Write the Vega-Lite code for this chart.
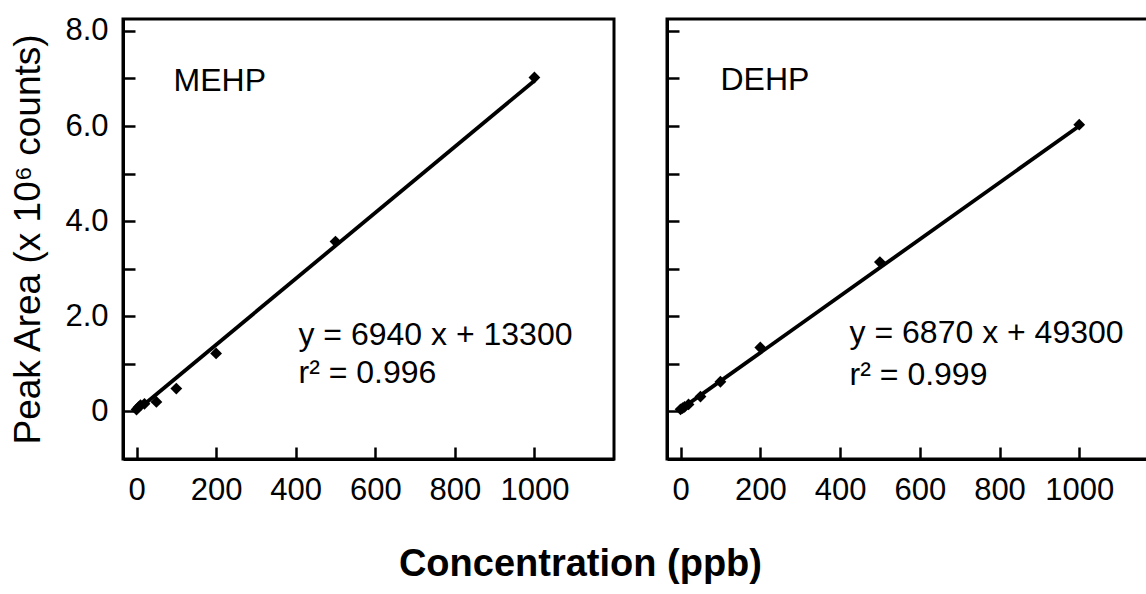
{
  "$schema": "https://vega.github.io/schema/vega-lite/v6.json",
  "background": "white",
  "autosize": {"type": "pad"},
  "padding": {"left": 8, "top": 13, "right": 0, "bottom": 0},
  "title": {
    "text": "Concentration (ppb)",
    "orient": "bottom",
    "anchor": "middle",
    "font": "Liberation Sans",
    "fontSize": 38,
    "fontWeight": "bold",
    "color": "black",
    "offset": 39
  },
  "datasets": {
    "mehp": [
      {"ppb": 0, "area": 0.04},
      {"ppb": 5, "area": 0.09},
      {"ppb": 10, "area": 0.13},
      {"ppb": 20, "area": 0.16},
      {"ppb": 50, "area": 0.2},
      {"ppb": 100, "area": 0.48},
      {"ppb": 200, "area": 1.22},
      {"ppb": 500, "area": 3.57},
      {"ppb": 1000, "area": 7.02}
    ],
    "mehp_fit": [
      {"ppb": 0, "area": 0.0133},
      {"ppb": 1000, "area": 6.9533}
    ],
    "dehp": [
      {"ppb": 0, "area": 0.05},
      {"ppb": 5, "area": 0.08},
      {"ppb": 10, "area": 0.11},
      {"ppb": 20, "area": 0.17},
      {"ppb": 50, "area": 0.36},
      {"ppb": 100, "area": 0.72},
      {"ppb": 200, "area": 1.55},
      {"ppb": 500, "area": 3.62},
      {"ppb": 1000, "area": 6.95}
    ],
    "dehp_fit": [
      {"ppb": 0, "area": 0.0493},
      {"ppb": 1000, "area": 6.9193}
    ]
  },
  "spacing": 48,
  "hconcat": [
    {
      "width": 491,
      "height": 440,
      "layer": [
        {
          "data": {"name": "mehp_fit"},
          "mark": {"type": "line", "color": "black", "strokeWidth": 3.8},
          "encoding": {
            "x": {
              "field": "ppb", "type": "quantitative",
              "scale": {"domain": [-34, 1200], "nice": false, "zero": false},
              "axis": {"title": null, "values": [0, 200, 400, 600, 800, 1000], "format": "d", "labelPadding": 28}
            },
            "y": {
              "field": "area", "type": "quantitative",
              "scale": {"domain": [-1, 8.25], "nice": false, "zero": false},
              "axis": {
                "title": "Peak Area (x 10⁶ counts)",
                "values": [0, 1, 2, 3, 4, 5, 6, 7, 8],
                "labelExpr": "datum.value == 0 ? '0' : (datum.value % 2 == 0 ? format(datum.value, '.1f') : '')",
                "labelPadding": 27,
                "titlePadding": 17,
                "titleFontSize": 37,
                "titleFontWeight": "normal"
              }
            }
          }
        },
        {
          "data": {"name": "mehp"},
          "mark": {"type": "point", "shape": "diamond", "filled": true, "color": "black", "opacity": 1, "size": 140},
          "encoding": {
            "x": {"field": "ppb", "type": "quantitative"},
            "y": {"field": "area", "type": "quantitative"}
          }
        },
        {
          "data": {"values": [{}]},
          "mark": {"type": "text", "align": "left", "baseline": "alphabetic", "font": "Liberation Sans", "fontSize": 32, "color": "black"},
          "encoding": {"x": {"datum": 93}, "y": {"datum": 6.74}, "text": {"value": "MEHP"}}
        },
        {
          "data": {"values": [{}]},
          "mark": {"type": "text", "align": "left", "baseline": "alphabetic", "font": "Liberation Sans", "fontSize": 32, "letterSpacing": 0.5, "color": "black"},
          "encoding": {"x": {"datum": 407}, "y": {"datum": 1.39}, "text": {"value": "y = 6940 x + 13300"}}
        },
        {
          "data": {"values": [{}]},
          "mark": {"type": "text", "align": "left", "baseline": "alphabetic", "font": "Liberation Sans", "fontSize": 32, "letterSpacing": 0.5, "color": "black"},
          "encoding": {"x": {"datum": 407}, "y": {"datum": 0.59}, "text": {"value": "r² = 0.996"}}
        }
      ]
    },
    {
      "width": 484,
      "height": 440,
      "layer": [
        {
          "data": {"name": "dehp_fit"},
          "mark": {"type": "line", "color": "black", "strokeWidth": 3.8},
          "encoding": {
            "x": {
              "field": "ppb", "type": "quantitative",
              "scale": {"domain": [-34, 1180], "nice": false, "zero": false},
              "axis": {"title": null, "values": [0, 200, 400, 600, 800, 1000], "format": "d", "labelPadding": 28}
            },
            "y": {
              "field": "area", "type": "quantitative",
              "scale": {"domain": [-1.153, 9.512], "nice": false, "zero": false},
              "axis": {
                "title": null,
                "labels": false,
                "values": [0, 1.153, 2.306, 3.459, 4.612, 5.765, 6.918, 8.071, 9.224]
              }
            }
          }
        },
        {
          "data": {"name": "dehp"},
          "mark": {"type": "point", "shape": "diamond", "filled": true, "color": "black", "opacity": 1, "size": 140},
          "encoding": {
            "x": {"field": "ppb", "type": "quantitative"},
            "y": {"field": "area", "type": "quantitative"}
          }
        },
        {
          "data": {"values": [{}]},
          "mark": {"type": "text", "align": "left", "baseline": "alphabetic", "font": "Liberation Sans", "fontSize": 32, "color": "black"},
          "encoding": {"x": {"datum": 100}, "y": {"datum": 7.79}, "text": {"value": "DEHP"}}
        },
        {
          "data": {"values": [{}]},
          "mark": {"type": "text", "align": "left", "baseline": "alphabetic", "font": "Liberation Sans", "fontSize": 32, "letterSpacing": 0.5, "color": "black"},
          "encoding": {"x": {"datum": 424}, "y": {"datum": 1.67}, "text": {"value": "y = 6870 x + 49300"}}
        },
        {
          "data": {"values": [{}]},
          "mark": {"type": "text", "align": "left", "baseline": "alphabetic", "font": "Liberation Sans", "fontSize": 32, "letterSpacing": 0.5, "color": "black"},
          "encoding": {"x": {"datum": 424}, "y": {"datum": 0.63}, "text": {"value": "r² = 0.999"}}
        }
      ]
    }
  ],
  "config": {
    "font": "Liberation Sans",
    "view": {"stroke": "black", "strokeWidth": 3},
    "axis": {
      "grid": false,
      "domainColor": "black",
      "domainWidth": 3,
      "tickColor": "black",
      "tickWidth": 2.5,
      "tickSize": -12,
      "labelColor": "black",
      "labelFont": "Liberation Sans",
      "labelFontSize": 31,
      "titleColor": "black",
      "titleFont": "Liberation Sans"
    }
  }
}
